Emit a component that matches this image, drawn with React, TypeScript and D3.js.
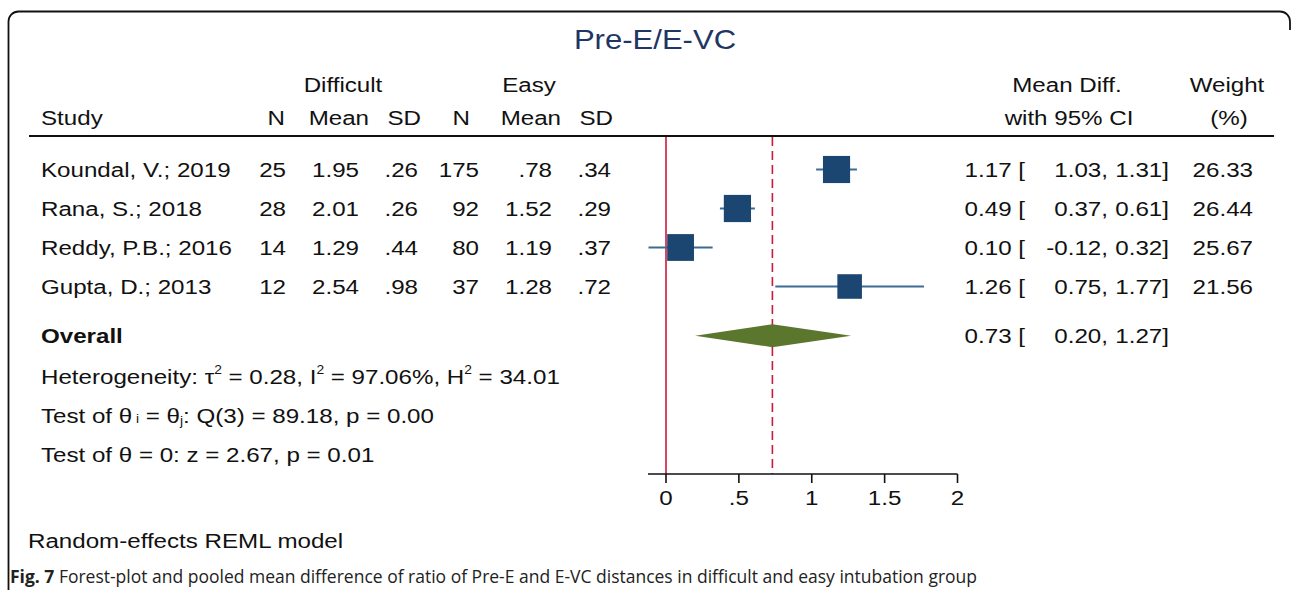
import React from "react";
import * as d3 from "d3";

const studies = ["Koundal, V.; 2019", "Rana, S.; 2018", "Reddy, P.B.; 2016", "Gupta, D.; 2013"];
const diffN = ["25", "28", "14", "12"];
const diffMean = ["1.95", "2.01", "1.29", "2.54"];
const diffSD = [".26", ".26", ".44", ".98"];
const easyN = ["175", "92", "80", "37"];
const easyMean = [".78", "1.52", "1.19", "1.28"];
const easySD = [".34", ".29", ".37", ".72"];
const effect = [1.17, 0.49, 0.10, 1.26];
const lower = [1.03, 0.37, -0.12, 0.75];
const upper = [1.31, 0.61, 0.32, 1.77];
const weight = [26.33, 26.44, 25.67, 21.56];
const overallEffect = 0.73;
const overallLower = 0.20;
const overallUpper = 1.27;
const xTicks = [0, 0.5, 1, 1.5, 2];

const W = 1292;
const H = 590;
const FONT = "'Liberation Sans', Arial, Helvetica, sans-serif";
const FS = 21;
const SX = 1.15;

const fmt2 = (v: number) => v.toFixed(2);
const tickFmt = (v: number) => (v === 0 ? "0" : String(v).replace(/^0\./, "."));

function T({ x, y, anchor = "start", size = FS, sx = SX, weight: fw = "normal", fill = "#111", children }: any) {
  return (
    <text
      transform={`translate(${x},${y}) scale(${sx},1)`}
      textAnchor={anchor}
      fontFamily={FONT}
      fontSize={size}
      fontWeight={fw}
      fill={fill}
    >
      {children}
    </text>
  );
}

export default function App() {
  const x = d3.scaleLinear().domain([0, 2]).range([666, 957.5]);
  const rowY = d3.scaleLinear().domain([0, 1]).range([169.5, 208.5]);
  const overallRow = 4.26;
  const size = d3.scaleSqrt().domain([0, d3.max(weight) as number]).range([0, 27.2]);
  const base = 7.5; // text baseline offset from row centre

  const topY = 136;
  const axisY = 474;

  const red = "#cc1a3c";
  const sq = "#1b4671";
  const ci = "#3f6a94";
  const dia = "#5a772d";

  const oy = rowY(overallRow);
  const diamond = [
    [x(overallLower), oy],
    [x(overallEffect), oy - 11.5],
    [x(overallUpper), oy],
    [x(overallEffect), oy + 11.5],
  ];

  return (
    <svg
      width={W}
      height={H}
      style={{ position: "absolute", left: 0, top: 0, display: "block", background: "#fff" }}
    >
      <rect x={0} y={0} width={W} height={H} fill="#fff" />
      {/* frame */}
      <path
        d="M8.5,592 V21.5 A10,10 0 0 1 18.5,11.5 H1280 A10,10 0 0 1 1290,21.5 V30"
        fill="none"
        stroke="#111"
        strokeWidth={1.8}
      />

      {/* title */}
      <T x={655} y={49} anchor="middle" size={27.5} sx={1.13} fill="#1f3563">Pre-E/E-VC</T>

      {/* headers */}
      <T x={343} y={92} anchor="middle">Difficult</T>
      <T x={529} y={92} anchor="middle">Easy</T>
      <T x={41} y={125}>Study</T>
      <T x={285} y={125} anchor="end">N</T>
      <T x={369} y={125} anchor="end">Mean</T>
      <T x={421} y={125} anchor="end">SD</T>
      <T x={470} y={125} anchor="end">N</T>
      <T x={561} y={125} anchor="end">Mean</T>
      <T x={613} y={125} anchor="end">SD</T>
      <T x={1067} y={92} anchor="middle">Mean Diff.</T>
      <T x={1069} y={125} anchor="middle">with 95% CI</T>
      <T x={1227} y={92} anchor="middle">Weight</T>
      <T x={1229} y={125} anchor="middle">(%)</T>

      <line x1={29} x2={1274} y1={topY} y2={topY} stroke="#111" strokeWidth={2} />

      {/* reference lines */}
      <line x1={x(0)} x2={x(0)} y1={topY + 1} y2={axisY} stroke={red} strokeWidth={1.6} />
      <line
        x1={x(overallEffect)}
        x2={x(overallEffect)}
        y1={topY + 1}
        y2={axisY}
        stroke={red}
        strokeWidth={1.6}
        strokeDasharray="9,5"
      />

      {/* study rows */}
      {studies.map((s, i) => {
        const cy = rowY(i);
        const ty = cy + base;
        const sz = size(weight[i]);
        return (
          <g key={s}>
            <T x={41} y={ty}>{s}</T>
            <T x={286} y={ty} anchor="end">{diffN[i]}</T>
            <T x={359} y={ty} anchor="end">{diffMean[i]}</T>
            <T x={418} y={ty} anchor="end">{diffSD[i]}</T>
            <T x={479} y={ty} anchor="end">{easyN[i]}</T>
            <T x={552} y={ty} anchor="end">{easyMean[i]}</T>
            <T x={611} y={ty} anchor="end">{easySD[i]}</T>

            <line x1={x(lower[i])} x2={x(upper[i])} y1={cy} y2={cy} stroke={ci} strokeWidth={2} />
            <rect x={x(effect[i]) - sz / 2} y={cy - sz / 2} width={sz} height={sz} fill={sq} />

            <T x={1025} y={ty} anchor="end">{`${fmt2(effect[i])} [`}</T>
            <T x={1108} y={ty} anchor="end">{`${fmt2(lower[i])},`}</T>
            <T x={1169} y={ty} anchor="end">{`${fmt2(upper[i])}]`}</T>
            <T x={1253} y={ty} anchor="end">{fmt2(weight[i])}</T>
          </g>
        );
      })}

      {/* overall */}
      <T x={41} y={oy + base} weight="bold">Overall</T>
      <polygon points={diamond.map((p) => p.join(",")).join(" ")} fill={dia} />
      <T x={1025} y={oy + base} anchor="end">{`${fmt2(overallEffect)} [`}</T>
      <T x={1108} y={oy + base} anchor="end">{`${fmt2(overallLower)},`}</T>
      <T x={1169} y={oy + base} anchor="end">{`${fmt2(overallUpper)}]`}</T>

      {/* stats */}
      <T x={41} y={384}>
        Heterogeneity: τ
        <tspan fontSize={12} dy={-10}>2</tspan>
        <tspan dy={10}> = 0.28, I</tspan>
        <tspan fontSize={12} dy={-10}>2</tspan>
        <tspan dy={10}> = 97.06%, H</tspan>
        <tspan fontSize={12} dy={-10}>2</tspan>
        <tspan dy={10}> = 34.01</tspan>
      </T>
      <T x={41} y={423}>
        Test of θ
        <tspan fontSize={12} dy={0}> i</tspan>
        <tspan> = θ</tspan>
        <tspan fontSize={12} dy={2}>j</tspan>
        <tspan dy={-2}>: Q(3) = 89.18, p = 0.00</tspan>
      </T>
      <T x={41} y={462}>Test of θ = 0: z = 2.67, p = 0.01</T>

      {/* axis */}
      <line x1={x(-0.12) - 0.5} x2={x(2)} y1={axisY} y2={axisY} stroke="#111" strokeWidth={1.6} />
      {xTicks.map((t) => (
        <g key={t}>
          <line x1={x(t)} x2={x(t)} y1={axisY} y2={axisY + 9} stroke="#111" strokeWidth={1.6} />
          <T x={x(t)} y={505} anchor="middle">{tickFmt(t)}</T>
        </g>
      ))}

      <T x={28} y={548}>Random-effects REML model</T>

      <text x={10} y={583} fontFamily="'Open Sans', 'Noto Sans', sans-serif" fontSize={18} fill="#222" textLength={967} lengthAdjust="spacingAndGlyphs">
        <tspan fontWeight="bold">Fig. 7</tspan>
        <tspan> Forest-plot and pooled mean difference of ratio of Pre-E and E-VC distances in difficult and easy intubation group</tspan>
      </text>
    </svg>
  );
}
